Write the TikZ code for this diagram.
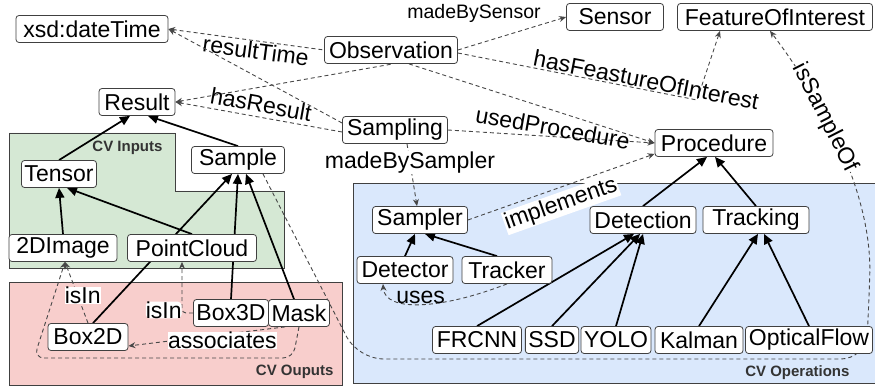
\documentclass[tikz,border=0pt]{standalone}
\usepackage{fontspec}
\setmainfont{Liberation Sans}
\usetikzlibrary{arrows.meta}
\pgfdeclarelayer{back}
\pgfsetlayers{back,main}
\definecolor{inputs}{HTML}{D5E8D4}
\definecolor{outputs}{HTML}{F8CECC}
\definecolor{operations}{HTML}{DAE8FC}

\begin{document}
\begin{tikzpicture}[x=1pt, y=-1pt, >={Stealth[length=7pt,width=6pt]},
	cls/.style={draw=black!75, fill=white, rounded corners=3pt, line width=0.8pt, inner xsep=3pt, inner ysep=0pt, minimum height=27pt, font=\fontsize{23}{26}\selectfont},
	lbl/.style={inner sep=1pt, font=\fontsize{23}{26}\selectfont},
	tag/.style={text=black!80, font=\bfseries\fontsize{15}{17}\selectfont},
	area/.style={draw=black!75, line width=0.9pt},
	gen/.style={line width=1.7pt, -{Triangle[length=10pt,width=9pt]}},
	rel/.style={draw=black!72, line width=0.9pt, dash pattern=on 4pt off 3pt, ->}]
			%%%%% START %%%%%
			\useasboundingbox (0, 0) rectangle (875, 387);
			
			% regions
			\begin{pgfonlayer}{back}
			\draw[area, fill=inputs] (9, 133) -- (175, 133) -- (175, 191) -- (284, 191) -- (284, 268) -- (9, 268) -- cycle;
			\draw[area, fill=outputs] (9, 282) rectangle (342, 385);
			\draw[area, fill=operations] (353, 183) rectangle (880, 383);
			\end{pgfonlayer}
			\node[tag, anchor=east] (intag) at (166, 148) {CV Inputs};
			\node[tag, anchor=east] (outtag) at (337, 372) {CV Ouputs};
			\node[tag, anchor=east] (optag) at (853, 373) {CV Operations};
			
			% top
			\node[cls, minimum width=152pt] (dt) at (92, 29) {xsd:dateTime};
			\node[cls, minimum width=133pt] (obs) at (391, 50) {Observation};
			\node[cls, minimum width=97pt] (sensor) at (615, 17) {Sensor};
			\node[cls, minimum width=195pt] (foi) at (775, 17) {FeatureOfInterest};
			\node[cls, minimum width=76pt] (result) at (137, 102) {Result};
			\node[cls, minimum width=105pt] (sampling) at (395, 130) {Sampling};
			\node[cls, minimum width=118pt] (proc) at (714, 143) {Procedure};
			\node[lbl, font=\fontsize{19.5}{22}\selectfont] (sensorlbl) at (474, 13) {madeBySensor};
			
			% inputs and outputs
			\node[cls, minimum width=75pt] (tensor) at (59, 174) {Tensor};
			\node[cls, minimum width=93pt] (sample) at (238, 160) {Sample};
			\node[cls, minimum width=108pt] (img) at (63, 248) {2DImage};
			\node[cls, minimum width=129pt] (pc) at (192, 248) {PointCloud};
			\node[cls, minimum width=74pt] (box3d) at (231, 313) {Box3D};
			\node[cls, minimum width=58pt] (mask) at (299, 313) {Mask};
			\node[cls, minimum width=80pt] (box2d) at (88, 337) {Box2D};
			
			% operations
			\node[cls, minimum width=95pt] (sampler) at (420, 220) {Sampler};
			\node[cls, minimum width=96pt] (detector) at (405, 270) {Detector};
			\node[cls, minimum width=90pt] (tracker) at (507, 270) {Tracker};
			\node[cls, minimum width=106pt] (detection) at (643, 220) {Detection};
			\node[cls, minimum width=106pt] (tracking) at (756, 220) {Tracking};
			\node[cls, minimum width=89pt] (frcnn) at (477, 340) {FRCNN};
			\node[cls, minimum width=53pt] (ssd) at (552, 340) {SSD};
			\node[cls, minimum width=67pt] (yolo) at (616, 340) {YOLO};
			\node[cls, minimum width=88pt] (kalman) at (699, 340) {Kalman};
			\node[cls, minimum width=127pt] (oflow) at (809, 340) {OpticalFlow};
			
			\begin{pgfonlayer}{back}
			% subclasses
			\draw[gen] (tensor.north) -- ([xshift=-7pt]result.south);
			\draw[gen] (sample.north) -- ([xshift=11pt]result.south);
			\draw[gen] (img.north) -- (tensor.south);
			\draw[gen] (pc.north) -- ([xshift=8pt]tensor.south);
			\draw[gen] ([xshift=5pt]box2d.north) -- ([xshift=-6pt]sample.south);
			\draw[gen] (box3d.north) -- (sample.south);
			\draw[gen] ([xshift=-5pt]mask.north) -- ([xshift=8pt]sample.south);
			\draw[gen] (detector.north) -- ([xshift=-5pt]sampler.south);
			\draw[gen] ([xshift=-10pt]tracker.north) -- ([xshift=5pt]sampler.south);
			\draw[gen] (detection.north) -- ([xshift=-7pt]proc.south);
			\draw[gen] (tracking.north) -- ([xshift=1pt]proc.south);
			\draw[gen] (frcnn.north) -- ([xshift=-9pt]detection.south);
			\draw[gen] (ssd.north) -- ([xshift=-3pt]detection.south);
			\draw[gen] (yolo.north) -- (detection.south);
			\draw[gen] (kalman.north) -- ([xshift=2pt]tracking.south);
			\draw[gen] (oflow.north) -- ([xshift=8pt]tracking.south);
			
			% properties
			\draw[rel, <-] (dt.east) -- node[lbl, sloped, below, pos=.57] {resultTime} (obs.west);
			\draw[rel, <-] (dt.east) -- ([yshift=7pt]sampling.west);
			\draw[rel, <-] (result.east) -- ([xshift=2pt]obs.south);
			\draw[rel, <-] (result.east) -- node[lbl, sloped, above=3pt, pos=.5] {hasResult} ([yshift=-2pt]sampling.west);
			\draw[rel] (obs.east) -- (sensor.west);
			\draw[rel] ([yshift=-3pt]obs.east) -- node[lbl, sloped, above, pos=.78] {hasFeastureOfInterest} (697, 100) -- ([xshift=-55pt]foi.south);
			\draw[rel] ([xshift=18pt]obs.south) -- (proc.west);
			\draw[rel] (sampling.east) -- node[lbl, rotate=-10, yshift=9pt, pos=.5] {usedProcedure} (proc.west);
			\draw[rel] ([xshift=12pt]sampling.south) -- node[lbl, fill=white, pos=.3] {madeBySampler} ([xshift=-3pt]sampler.north);
			\draw[rel] (sampler.east) -- node[lbl, fill=white, sloped, below=4pt, pos=.47] {implements} ([yshift=3pt]proc.south west);
			\draw[rel] (tracker.south) .. controls (440, 310) and (385, 312) .. node[lbl, above, inner sep=0pt, pos=.5] {uses} ([xshift=-22pt]detector.south);
			\draw[rel, rounded corners=25pt] ([xshift=25pt]sample.south) -- (358, 359) -- (866, 359) -- (869, 300) [sharp corners] .. controls (872, 200) and (830, 110) .. node[lbl, fill=white, inner sep=0pt, sloped, pos=.65] {isSampleOf} ([xshift=-5pt]foi.south);
			\draw[rel] (box2d.north) -- node[lbl, fill=white, inner sep=0pt, pos=.45, xshift=5pt] {isIn} ([xshift=2pt]img.south);
			\draw[rel, rounded corners=10pt] (mask.south) -- (293, 358) -- (34, 358) -- ([xshift=2pt]img.south);
			\draw[rel, rounded corners=4pt] (box3d.west) -| node[lbl, fill=white, inner sep=0pt, left, yshift=3pt, pos=.5] {isIn} ([xshift=-10pt]pc.south);
			\draw[rel] ([xshift=-14pt]mask.south) -- node[lbl, fill=white, inner sep=0pt, pos=.4, yshift=-6pt] {associates} ([yshift=-9pt]box2d.east);
			\end{pgfonlayer}
			%%%%% END %%%%%
\end{tikzpicture}
\end{document}
